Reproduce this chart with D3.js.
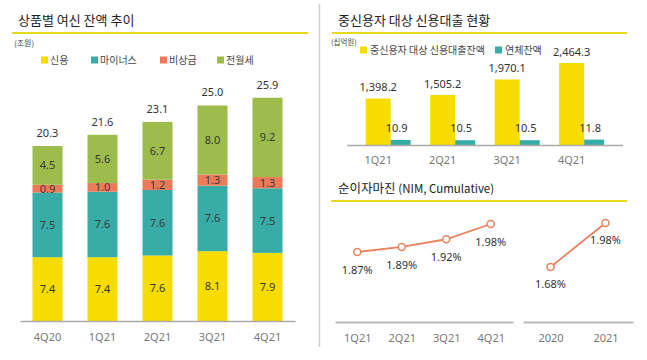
<!DOCTYPE html>
<html>
<head>
<meta charset="utf-8">
<script src="https://cdn.jsdelivr.net/npm/d3@7"></script>
<style>
  body { margin: 0; background: #fff; }
  svg { display: block; }
  text { font-family: "Noto Sans CJK KR", "Noto Sans", sans-serif; }
  .num { font-family: "Noto Sans", "Noto Sans CJK KR", sans-serif; }
</style>
</head>
<body>
<svg width="647" height="360"></svg>
<script>
var width = 647;
var height = 360;

// left chart: loan balance by product (조원)
var quarters = ['4Q20', '1Q21', '2Q21', '3Q21', '4Q21'];
var productNames = ['신용', '마이너스', '비상금', '전월세'];
var credit   = [7.4, 7.4, 7.6, 8.1, 7.9];
var minus    = [7.5, 7.6, 7.6, 7.6, 7.5];
var petty    = [0.9, 1.0, 1.2, 1.3, 1.3];
var jeonse   = [4.5, 5.6, 6.7, 8.0, 9.2];
var totals   = [20.3, 21.6, 23.1, 25.0, 25.9];

// top right: mid-credit borrower loans (십억원)
var midQuarters = ['1Q21', '2Q21', '3Q21', '4Q21'];
var midNames = ['중신용자 대상 신용대출잔액', '연체잔액'];
var midLoans = [1398.2, 1505.2, 1970.1, 2464.3];
var overdue  = [10.9, 10.5, 10.5, 11.8];

// bottom right: NIM
var nimQuarters = ['1Q21', '2Q21', '3Q21', '4Q21'];
var nimQuarterly = [1.87, 1.89, 1.92, 1.98];
var nimYears = ['2020', '2021'];
var nimYearly = [1.68, 1.98];

var colors = ['#f6dc00', '#38aca6', '#ec7a58', '#9cbc4c'];
var nimColor = '#e9825e';

var svg = d3.select('svg');

//Divider between panels
svg.append('line')
  .attr('x1', 319.5).attr('x2', 319.5)
  .attr('y1', 4).attr('y2', 347)
  .attr('stroke', '#cfcfcf').attr('stroke-width', 1.5);

function panelTitle(x, y, lineX1, lineX2, lineY, txt) {
  svg.append('text')
    .attr('x', x).attr('y', y)
    .attr('font-size', 13)
    .attr('fill', '#222')
    .text(txt);
  svg.append('line')
    .attr('x1', lineX1).attr('x2', lineX2)
    .attr('y1', lineY).attr('y2', lineY)
    .attr('stroke', '#e6d81c').attr('stroke-width', 2);
}

// ---------- left panel ----------
panelTitle(18, 25, 12, 308, 33, '상품별 여신 잔액 추이');

svg.append('text')
  .attr('x', 14).attr('y', 46)
  .attr('font-size', 8).attr('fill', '#444')
  .text('(조원)');

var legendX = [41, 91, 160, 217];
productNames.forEach(function (name, i) {
  svg.append('rect')
    .attr('x', legendX[i]).attr('y', 56.5)
    .attr('width', 7).attr('height', 7)
    .attr('fill', colors[i]);
  svg.append('text')
    .attr('x', legendX[i] + 9).attr('y', 64)
    .attr('font-size', 10).attr('fill', '#444')
    .text(name);
});

var xScale = d3.scaleBand()
  .domain(quarters)
  .range([20, 295])
  .paddingInner(0.4545)
  .paddingOuter(0.2273);

var yScale = d3.scaleLinear()
  .domain([0, 20.3])
  .range([321, 146]);

var rows = quarters.map(function (q, i) {
  return {q: q, '신용': credit[i], '마이너스': minus[i], '비상금': petty[i], '전월세': jeonse[i], total: totals[i]};
});

var stack = d3.stack().keys(productNames)(rows);

var layers = svg.selectAll('g.layer')
  .data(stack)
  .enter()
  .append('g')
  .attr('class', 'layer')
  .attr('fill', function (d, i) { return colors[i]; });

layers.selectAll('rect')
  .data(function (d) { return d; })
  .enter()
  .append('rect')
  .attr('x', function (d) { return xScale(d.data.q); })
  .attr('width', xScale.bandwidth())
  .attr('y', function (d) { return yScale(d[1]); })
  .attr('height', function (d) { return yScale(d[0]) - yScale(d[1]); });

layers.selectAll('text')
  .data(function (d) { return d.map(function (p) { p.key = d.key; return p; }); })
  .enter()
  .append('text')
  .attr('class', 'num')
  .attr('x', function (d) { return xScale(d.data.q) + xScale.bandwidth() / 2; })
  .attr('y', function (d) { return (yScale(d[0]) + yScale(d[1])) / 2 + 4; })
  .attr('text-anchor', 'middle')
  .attr('font-size', 11)
  .attr('fill', '#3a3a3a')
  .text(function (d) { return d.data[d.key].toFixed(1); });

svg.selectAll('text.total')
  .data(rows)
  .enter()
  .append('text')
  .attr('class', 'total num')
  .attr('x', function (d) { return xScale(d.q) + xScale.bandwidth() / 2; })
  .attr('y', function (d) { return yScale(d.total) - 9; })
  .attr('text-anchor', 'middle')
  .attr('font-size', 11)
  .attr('fill', '#333')
  .text(function (d) { return d.total.toFixed(1); });

var axisLeftChart = svg.append('g')
  .attr('transform', 'translate(0,321)')
  .call(d3.axisBottom(xScale).tickSize(0).tickPadding(12));
axisLeftChart.select('.domain').attr('stroke', '#aaa').attr('stroke-width', 1.5);
axisLeftChart.selectAll('text')
  .attr('class', 'num').attr('font-size', 11).attr('fill', '#777');

// ---------- top right panel ----------
panelTitle(338, 25, 332, 627, 33, '중신용자 대상 신용대출 현황');

svg.append('text')
  .attr('x', 331).attr('y', 45)
  .attr('font-size', 7.5).attr('fill', '#444')
  .text('(십억원)');

var midLegendX = [360, 495];
midNames.forEach(function (name, i) {
  svg.append('rect')
    .attr('x', midLegendX[i]).attr('y', 46.5)
    .attr('width', 7).attr('height', 7)
    .attr('fill', colors[i]);
  svg.append('text')
    .attr('x', midLegendX[i] + 10).attr('y', 54)
    .attr('font-size', 10).attr('fill', '#444')
    .text(name);
});

var xMid = d3.scaleBand()
  .domain(midQuarters)
  .range([347, 623])
  .paddingInner(0.3)
  .paddingOuter(0.29);

var yMid = d3.scaleLinear().domain([0, 2464.3]).range([145, 63]);
var yOver = d3.scaleLinear().domain([0, 11.8]).range([145, 139.6]);
var midBarW = 25;
var overBarW = 20;

svg.selectAll('rect.mid')
  .data(midLoans)
  .enter()
  .append('rect')
  .attr('class', 'mid')
  .attr('x', function (d, i) { return xMid(midQuarters[i]); })
  .attr('width', midBarW)
  .attr('y', function (d) { return yMid(d); })
  .attr('height', function (d) { return 145 - yMid(d); })
  .attr('fill', colors[0]);

svg.selectAll('rect.over')
  .data(overdue)
  .enter()
  .append('rect')
  .attr('class', 'over')
  .attr('x', function (d, i) { return xMid(midQuarters[i]) + midBarW; })
  .attr('width', overBarW)
  .attr('y', function (d) { return yOver(d); })
  .attr('height', function (d) { return 145 - yOver(d); })
  .attr('fill', colors[1]);

svg.selectAll('text.midval')
  .data(midLoans)
  .enter()
  .append('text')
  .attr('class', 'midval num')
  .attr('x', function (d, i) { return xMid(midQuarters[i]) + midBarW / 2; })
  .attr('y', function (d) { return yMid(d) - 7; })
  .attr('text-anchor', 'middle')
  .attr('font-size', 11)
  .attr('fill', '#333')
  .text(function (d) { return d3.format(',.1f')(d); });

svg.selectAll('text.overval')
  .data(overdue)
  .enter()
  .append('text')
  .attr('class', 'overval num')
  .attr('x', function (d, i) { return xMid(midQuarters[i]) + midBarW + overBarW / 2 - 4; })
  .attr('y', function (d) { return yOver(d) - 8; })
  .attr('text-anchor', 'middle')
  .attr('font-size', 11)
  .attr('fill', '#333')
  .text(function (d) { return d.toFixed(1); });

svg.append('line')
  .attr('x1', 347).attr('x2', 623)
  .attr('y1', 145.5).attr('y2', 145.5)
  .attr('stroke', '#aaa').attr('stroke-width', 1.5);

svg.selectAll('text.midx')
  .data(midQuarters)
  .enter()
  .append('text')
  .attr('class', 'midx num')
  .attr('x', function (d) { return xMid(d) + midBarW / 2; })
  .attr('y', 164)
  .attr('text-anchor', 'middle')
  .attr('font-size', 11)
  .attr('fill', '#777')
  .text(function (d) { return d; });

// ---------- bottom right panel ----------
var nimTitle = svg.append('text')
  .attr('x', 338).attr('y', 193)
  .attr('font-size', 12.5)
  .attr('fill', '#222');
nimTitle.append('tspan').text('순이자마진 ');
nimTitle.append('tspan').attr('font-size', 11.5).text('(NIM, Cumulative)');
svg.append('line')
  .attr('x1', 331).attr('x2', 627)
  .attr('y1', 201).attr('y2', 201)
  .attr('stroke', '#e6d81c').attr('stroke-width', 2);

var xNimQ = d3.scalePoint().domain(nimQuarters).range([335, 513]).padding(0.5);
var yNimQ = d3.scaleLinear().domain([1.8, 2.0]).range([269.8, 218.9]);
var xNimY = d3.scalePoint().domain(nimYears).range([523, 633]).padding(0.5);
var yNimY = d3.scaleLinear().domain([1.6, 2.0]).range([278.7, 220.1]);

function nimGroup(cats, vals, xs, ys, labelDy) {
  var pts = cats.map(function (c, i) { return {c: c, v: vals[i]}; });
  svg.append('path')
    .datum(pts)
    .attr('fill', 'none')
    .attr('stroke', nimColor)
    .attr('stroke-width', 1.8)
    .attr('d', d3.line().x(function (d) { return xs(d.c); }).y(function (d) { return ys(d.v); }));
  var g = svg.append('g');
  g.selectAll('circle')
    .data(pts)
    .enter()
    .append('circle')
    .attr('cx', function (d) { return xs(d.c); })
    .attr('cy', function (d) { return ys(d.v); })
    .attr('r', 3.5)
    .attr('fill', '#fff')
    .attr('stroke', nimColor)
    .attr('stroke-width', 1.5);
  g.selectAll('text')
    .data(pts)
    .enter()
    .append('text')
    .attr('class', 'num')
    .attr('x', function (d) { return xs(d.c); })
    .attr('y', function (d) { return ys(d.v) + labelDy; })
    .attr('text-anchor', 'middle')
    .attr('font-size', 11)
    .attr('fill', '#333')
    .text(function (d) { return d.v.toFixed(2) + '%'; });
  var ax = svg.append('g')
    .attr('transform', 'translate(0,322)')
    .call(d3.axisBottom(xs).tickSize(0).tickPadding(12));
  ax.select('.domain').attr('stroke', '#bbb').attr('stroke-width', 2);
  ax.selectAll('text').attr('class', 'num').attr('font-size', 11).attr('fill', '#777');
}

nimGroup(nimQuarters, nimQuarterly, xNimQ, yNimQ, 22);
nimGroup(nimYears, nimYearly, xNimY, yNimY, 21);
</script>
</body>
</html>
